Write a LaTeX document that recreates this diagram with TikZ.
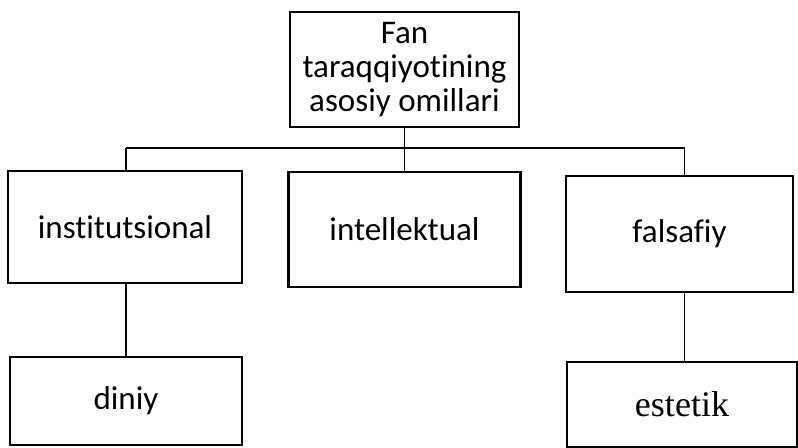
\documentclass[tikz,border=0pt]{standalone}
\usepackage{fontspec}
\setmainfont[Ligatures=NoCommon]{Carlito}
\newfontfamily\timesfont{Liberation Serif}
\usepackage{tikz}

\begin{document}
\begin{tikzpicture}[
		box_style/.style={rectangle,draw=black,line width=1.6pt,fill=white,align=center,inner sep=0pt,font=\fontsize{18.8}{19.5}\selectfont},
		edge_style/.style={draw=black,line width=0.8pt}]

		\useasboundingbox (0,0) rectangle (15.96,8.94);

		\node[box_style,minimum width=4.58cm,minimum height=2.3cm] (n0) at (8.09,7.55) {Fan\\taraqqiyotining\\asosiy omillari};
		\node[box_style,minimum width=4.68cm,minimum height=2.24cm] (n1) at (2.5,4.4) {institutsional};
		\node[box_style,minimum width=4.64cm,minimum height=2.3cm] (n2) at (8.09,4.35) {intellektual};
		\node[box_style,minimum width=4.54cm,minimum height=2.32cm] (n3) at (13.59,4.26) {falsafiy};
		\node[box_style,minimum width=4.64cm,minimum height=1.76cm] (n4) at (2.52,0.92) {diniy};
		\node[box_style,minimum width=4.6cm,minimum height=1.7cm,font=\timesfont\fontsize{20.5}{21}\selectfont] (n5) at (13.64,0.85) {estetik};

		\coordinate (h0) at (8.09,5.98);
		\coordinate (h1) at (2.52,5.98);
		\coordinate (h3) at (13.69,5.98);

		\draw[edge_style]  (h1) -- (h3);
		\draw[edge_style]  (n0.south) -- (h0);
		\draw[edge_style]  (h0) -- (n2.north);
		\draw[edge_style]  (h1) -- (h1 |- n1.north);
		\draw[edge_style]  (h3) -- (h3 |- n3.north);
		\draw[edge_style]  (n1.south -| h1) -- (h1 |- n4.north);
		\draw[edge_style]  (n3.south -| h3) -- (h3 |- n5.north);
\end{tikzpicture}
\end{document}
